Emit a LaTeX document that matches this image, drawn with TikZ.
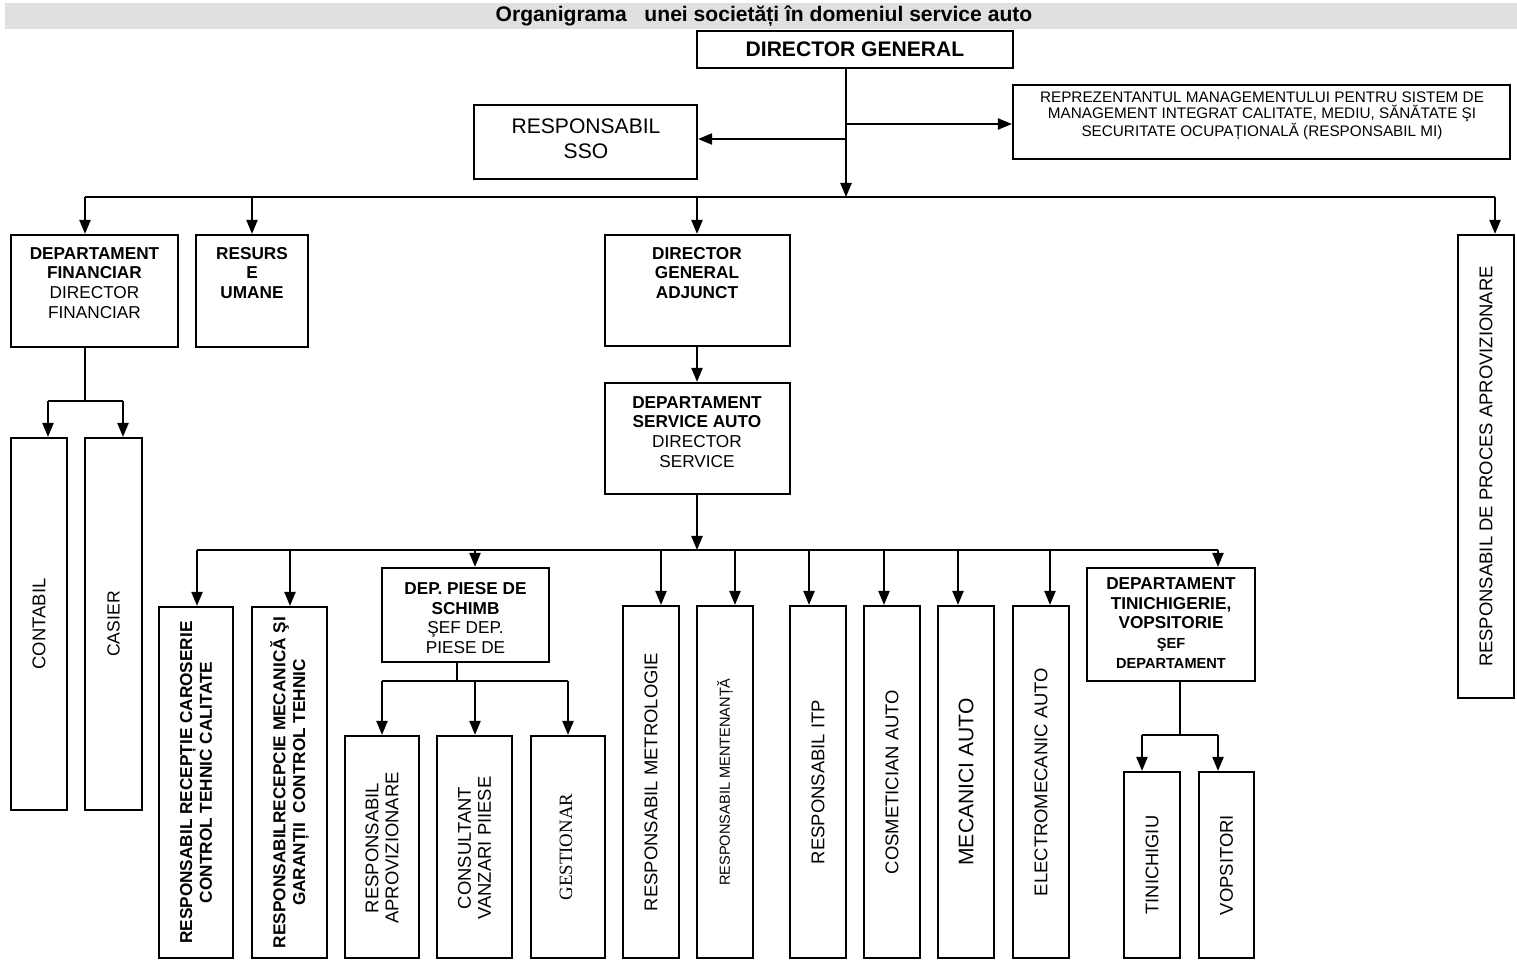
\documentclass[tikz,border=0pt]{standalone}
\usepackage{fontspec}
\setmainfont{Liberation Sans}
\newfontfamily\serifface{Liberation Serif}
\usetikzlibrary{arrows.meta}
\definecolor{band}{RGB}{224,224,224}
\newcommand\fsz[2]{\fontsize{#1}{#2}\selectfont}
% box from corner (x1,y1) to corner (x2,y2): name, x1, y1, x2, y2
\newcommand\cbox[5]{\node[boxst,minimum width={(#4-#2)*0.02cm},minimum height={(#5-#3)*0.02cm}] (#1) at ({(#2+#4)/2},{(#3+#5)/2}) {};}
\tikzset{
  boxst/.style={draw, fill=white, line width=1.3pt, inner sep=0pt},
  wire/.style={line width=1pt},
  arr/.style={wire, -{Triangle[length=8pt,width=6.4pt]}},
  lbl/.style={align=center, inner sep=0pt},
  vlbl/.style={lbl, rotate=90},
}
\begin{document}
\begin{tikzpicture}[x=0.02cm, y=-0.02cm]
\useasboundingbox (0,0) rectangle (1517,961);
% title band
\fill[band] (5,3) rectangle (1517,29);
\node[lbl, font=\bfseries\fsz{12}{14}] (title) at (764,16) {Organigrama\ \ \ unei societăți în domeniul service auto};

% boxes
\cbox{dg}{697}{31}{1013}{68}
\cbox{sso}{474}{105}{697}{179}
\cbox{repr}{1013}{85}{1510}{159}
\cbox{df}{11}{235}{178}{347}
\cbox{hr}{196}{235}{308}{347}
\cbox{dga}{605}{235}{790}{346}
\cbox{dsa}{605}{383}{790}{494}
\cbox{rpa}{1458}{235}{1514}{698}
\cbox{cont}{11}{438}{67}{810}
\cbox{cas}{85}{438}{142}{810}
\cbox{rrc}{159}{607}{233}{958}
\cbox{rrm}{252}{607}{327}{958}
\cbox{dps}{382}{568}{549}{662}
\cbox{rap}{345}{736}{419}{958}
\cbox{cvp}{437}{736}{512}{958}
\cbox{gest}{531}{736}{605}{958}
\cbox{met}{623}{606}{679}{958}
\cbox{men}{697}{606}{753}{958}
\cbox{itp}{790}{606}{846}{958}
\cbox{cos}{864}{606}{920}{958}
\cbox{mec}{938}{606}{994}{958}
\cbox{ele}{1013}{606}{1069}{958}
\cbox{dtv}{1087}{568}{1255}{681}
\cbox{tin}{1124}{772}{1180}{958}
\cbox{vop}{1199}{772}{1254}{958}

% texts
\node[lbl, font=\bfseries\fsz{12}{14}] (dg-t) at (dg) {DIRECTOR GENERAL};
\node[lbl, font=\fsz{12}{14}] (sso-t) at (586,139) {RESPONSABIL\\SSO};
\node[lbl, font=\fsz{8.7}{9.1}] (repr-t) at (1262,116) {REPREZENTANTUL MANAGEMENTULUI PENTRU SISTEM DE\\MANAGEMENT INTEGRAT CALITATE, MEDIU, SĂNĂTATE ŞI\\SECURITATE OCUPAȚIONALĂ (RESPONSABIL MI)};
\node[lbl, font=\fsz{9.8}{11.3}] (df-t) at (94.5,283) {\textbf{DEPARTAMENT}\\\textbf{FINANCIAR}\\DIRECTOR\\FINANCIAR};
\node[lbl, font=\bfseries\fsz{9.8}{11.3}] (hr-t) at (252,273) {RESURS\\E\\UMANE};
\node[lbl, font=\bfseries\fsz{9.8}{11.3}] (dga-t) at (697,273) {DIRECTOR\\GENERAL\\ADJUNCT};
\node[lbl, font=\fsz{9.8}{11.3}] (dsa-t) at (697,432) {\textbf{DEPARTAMENT}\\\textbf{SERVICE AUTO}\\DIRECTOR\\SERVICE};
\node[vlbl, font=\fsz{10.5}{12}] (rpa-t) at (rpa) {RESPONSABIL DE PROCES APROVIZIONARE};
\node[vlbl, font=\fsz{10.5}{12}] (cont-t) at (39,624) {CONTABIL};
\node[vlbl, font=\fsz{10}{12}] (cas-t) at (113.5,624) {CASIER};
\node[vlbl, font=\bfseries\fsz{9.8}{11.3}] (rrc-t) at (rrc) {RESPONSABIL RECEPȚIE CAROSERIE\\CONTROL TEHNIC CALITATE};
\node[vlbl, font=\bfseries\fsz{9.8}{11.3}] (rrm-t) at (rrm) {RESPONSABILRECEPCIE MECANICĂ ŞI\\GARANȚII\ \ CONTROL TEHNIC};
\node[lbl, font=\fsz{9.8}{11.3}] (dps-t) at (465.5,618) {\textbf{DEP. PIESE DE}\\\textbf{SCHIMB}\\ŞEF DEP.\\PIESE DE};
\node[vlbl, font=\fsz{10.5}{11.3}] (rap-t) at (382,848) {RESPONSABIL\\APROVIZIONARE};
\node[vlbl, font=\fsz{10.5}{11.3}] (cvp-t) at (474.5,848) {CONSULTANT\\VANZARI PIIESE};
\node[vlbl, font=\serifface\fsz{10.7}{12}] (gest-t) at (566,847) {GESTIONAR};
\node[vlbl, font=\fsz{10.5}{12}] (met-t) at (met) {RESPONSABIL METROLOGIE};
\node[vlbl, font=\fsz{8.3}{10}] (men-t) at (men) {RESPONSABIL MENTENANȚĂ};
\node[vlbl, font=\fsz{10.5}{12}] (itp-t) at (itp) {RESPONSABIL ITP};
\node[vlbl, font=\fsz{10.5}{12}] (cos-t) at (cos) {COSMETICIAN AUTO};
\node[vlbl, font=\fsz{12}{14}] (mec-t) at (mec) {MECANICI AUTO};
\node[vlbl, font=\fsz{10.5}{12}] (ele-t) at (ele) {ELECTROMECANIC AUTO};
\node[lbl, font=\bfseries\fsz{9.8}{11.3}] (dtv-t) at (1171,623) {DEPARTAMENT\\TINICHIGERIE,\\VOPSITORIE\\{\fsz{8.3}{9.8}ŞEF}\\{\fsz{8.3}{9.8}DEPARTAMENT}};
\node[vlbl, font=\fsz{10.4}{12}] (tin-t) at (tin) {TINICHIGIU};
\node[vlbl, font=\fsz{10.5}{12}] (vop-t) at (vop) {VOPSITORI};

% junction points
\coordinate (j0) at (846,197);
\coordinate (jsso) at (846,139);
\coordinate (jrepr) at (846,124);
\coordinate (b1) at (85,197);
\coordinate (b2) at (252,197);
\coordinate (b3) at (697,197);
\coordinate (b4) at (1495,197);
\coordinate (j5) at (697,550);
\coordinate (c1) at (197,550);
\coordinate (c2) at (290,550);
\coordinate (c3) at (475,550);
\coordinate (c4) at (661,550);
\coordinate (c5) at (735,550);
\coordinate (c6) at (809,550);
\coordinate (c7) at (884,550);
\coordinate (c8) at (958,550);
\coordinate (c9) at (1050,550);
\coordinate (c10) at (1218,550);
\coordinate (f0) at (85,401);
\coordinate (f1) at (48,401);
\coordinate (f2) at (123,401);
\coordinate (p0) at (457,681);
\coordinate (p1) at (382,681);
\coordinate (p2) at (475,681);
\coordinate (p3) at (568,681);
\coordinate (t0) at (1180,735);
\coordinate (t1) at (1142,735);
\coordinate (t2) at (1218,735);

% top level connectors
\draw[arr] (dg.south -| j0) -- (j0);
\draw[arr] (jsso) -- (jsso -| sso.east);
\draw[arr] (jrepr) -- (jrepr -| repr.west);
\draw[wire] (b1) -- (b4);
\draw[arr] (b1) -- (b1 |- df.north);
\draw[arr] (b2) -- (b2 |- hr.north);
\draw[arr] (b3) -- (b3 |- dga.north);
\draw[arr] (b4) -- (b4 |- rpa.north);
% finance
\draw[wire] (df.south -| f0) -- (f0);
\draw[wire] (f1) -- (f2);
\draw[arr] (f1) -- (f1 |- cont.north);
\draw[arr] (f2) -- (f2 |- cas.north);
% service
\draw[arr] (dga.south -| b3) -- (b3 |- dsa.north);
\draw[arr] (dsa.south -| j5) -- (j5);
\draw[wire] (c1) -- (c10);
\draw[arr] (c1) -- (c1 |- rrc.north);
\draw[arr] (c2) -- (c2 |- rrm.north);
\draw[arr] (c3) -- (c3 |- dps.north);
\draw[arr] (c4) -- (c4 |- met.north);
\draw[arr] (c5) -- (c5 |- men.north);
\draw[arr] (c6) -- (c6 |- itp.north);
\draw[arr] (c7) -- (c7 |- cos.north);
\draw[arr] (c8) -- (c8 |- mec.north);
\draw[arr] (c9) -- (c9 |- ele.north);
\draw[arr] (c10) -- (c10 |- dtv.north);
% spare parts
\draw[wire] (dps.south -| p0) -- (p0);
\draw[wire] (p1) -- (p3);
\draw[arr] (p1) -- (p1 |- rap.north);
\draw[arr] (p2) -- (p2 |- cvp.north);
\draw[arr] (p3) -- (p3 |- gest.north);
% body shop
\draw[wire] (dtv.south -| t0) -- (t0);
\draw[wire] (t1) -- (t2);
\draw[arr] (t1) -- (t1 |- tin.north);
\draw[arr] (t2) -- (t2 |- vop.north);
\end{tikzpicture}
\end{document}
